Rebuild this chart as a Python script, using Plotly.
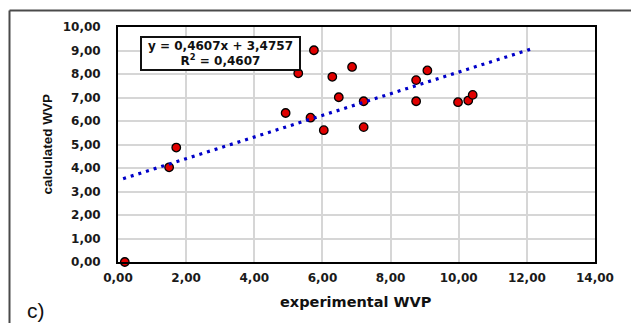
import plotly.graph_objects as go

# data
exp_wvp = [0.20, 1.50, 1.71, 4.92, 5.29, 5.65, 5.75, 6.04, 6.29, 6.48, 6.87,
           7.21, 7.21, 8.75, 8.75, 9.08, 9.98, 10.28, 10.41]
calc_wvp = [0.00, 4.03, 4.87, 6.34, 8.03, 6.14, 9.01, 5.61, 7.88, 7.01, 8.30,
            6.84, 5.74, 7.74, 6.84, 8.15, 6.80, 6.87, 7.11]
slope = 0.4607
intercept = 3.4757
trend_x = [0.15, 12.2]
trend_y = [slope * v + intercept for v in trend_x]
x_ticks = [0, 2, 4, 6, 8, 10, 12, 14]
y_ticks = [0, 1, 2, 3, 4, 5, 6, 7, 8, 9, 10]

W, H = 631, 323
L, R, T, B = 118, 36, 27, 61
pw, ph = W - L - R, H - T - B


def px(xp):
    return (xp - L) / pw


def py(yp):
    return (H - B - yp) / ph


fig = go.Figure()
fig.add_trace(go.Scatter(
    x=exp_wvp, y=calc_wvp, mode="markers", cliponaxis=False,
    marker=dict(size=8.5, color="#e00000", line=dict(color="black", width=1.3)),
    showlegend=False))
fig.add_trace(go.Scatter(
    x=trend_x, y=trend_y, mode="lines",
    line=dict(color="#0000c8", width=3.2, dash="3px,5px"),
    showlegend=False))

tickfont = dict(family="DejaVu Sans", size=12, color="#1a1a1a")
fig.update_layout(
    width=W, height=H,
    margin=dict(l=L, r=R, t=T, b=B),
    paper_bgcolor="white", plot_bgcolor="white",
    separators=",.",
    font=dict(family="DejaVu Sans"),
    xaxis=dict(range=[0, 14], tickvals=x_ticks, tickformat=".2f",
               showgrid=True, gridcolor="#d6d6d6", gridwidth=1.5,
               showline=True, linecolor="black", linewidth=1.8, mirror=True,
               zeroline=False, ticks="outside", ticklen=4,
               tickcolor="rgba(0,0,0,0)",
               tickfont=dict(tickfont, weight="bold")),
    yaxis=dict(range=[0, 10], tickvals=y_ticks, tickformat=".2f",
               showgrid=True, gridcolor="#d6d6d6", gridwidth=1.5,
               showline=True, linecolor="black", linewidth=1.8, mirror=True,
               zeroline=False, ticks="outside", ticklen=13,
               tickcolor="rgba(0,0,0,0)",
               tickfont=dict(tickfont, weight="bold")),
)

fig.add_annotation(
    x=px(220), y=py(53.5), xref="paper", yref="paper",
    xanchor="center", yanchor="middle",
    text="y = 0,4607x + 3,4757<br>R<sup>2</sup> = 0,4607",
    showarrow=False, align="center",
    font=dict(family="DejaVu Sans", size=12, color="#111", weight="bold"),
    bordercolor="#111", borderwidth=2, borderpad=2,
    bgcolor="white", width=153, height=27)

fig.add_annotation(
    x=px(47), y=py(144.5), xref="paper", yref="paper",
    xanchor="center", yanchor="middle",
    text="calculated WVP", textangle=-90, showarrow=False,
    font=dict(family="Liberation Sans", size=13.5, color="#111", weight="bold"))

fig.add_annotation(
    x=px(355.5), y=py(301.5), xref="paper", yref="paper",
    xanchor="center", yanchor="middle",
    text="experimental WVP", showarrow=False,
    font=dict(family="DejaVu Sans", size=14.5, color="#111", weight="bold"))

fig.add_annotation(
    x=px(36), y=py(310), xref="paper", yref="paper",
    xanchor="center", yanchor="middle",
    text="c)", showarrow=False,
    font=dict(family="Liberation Sans", size=21, color="#111"))

# outer frame (left and top edges)
fig.add_shape(type="line", xref="paper", yref="paper",
              x0=px(9.5), y0=py(330), x1=px(9.5), y1=py(10.5),
              line=dict(color="#4a4a4a", width=2))
fig.add_shape(type="line", xref="paper", yref="paper",
              x0=px(9.5), y0=py(10.5), x1=px(640), y1=py(10.5),
              line=dict(color="#4a4a4a", width=2))

fig.write_html("out.html")
